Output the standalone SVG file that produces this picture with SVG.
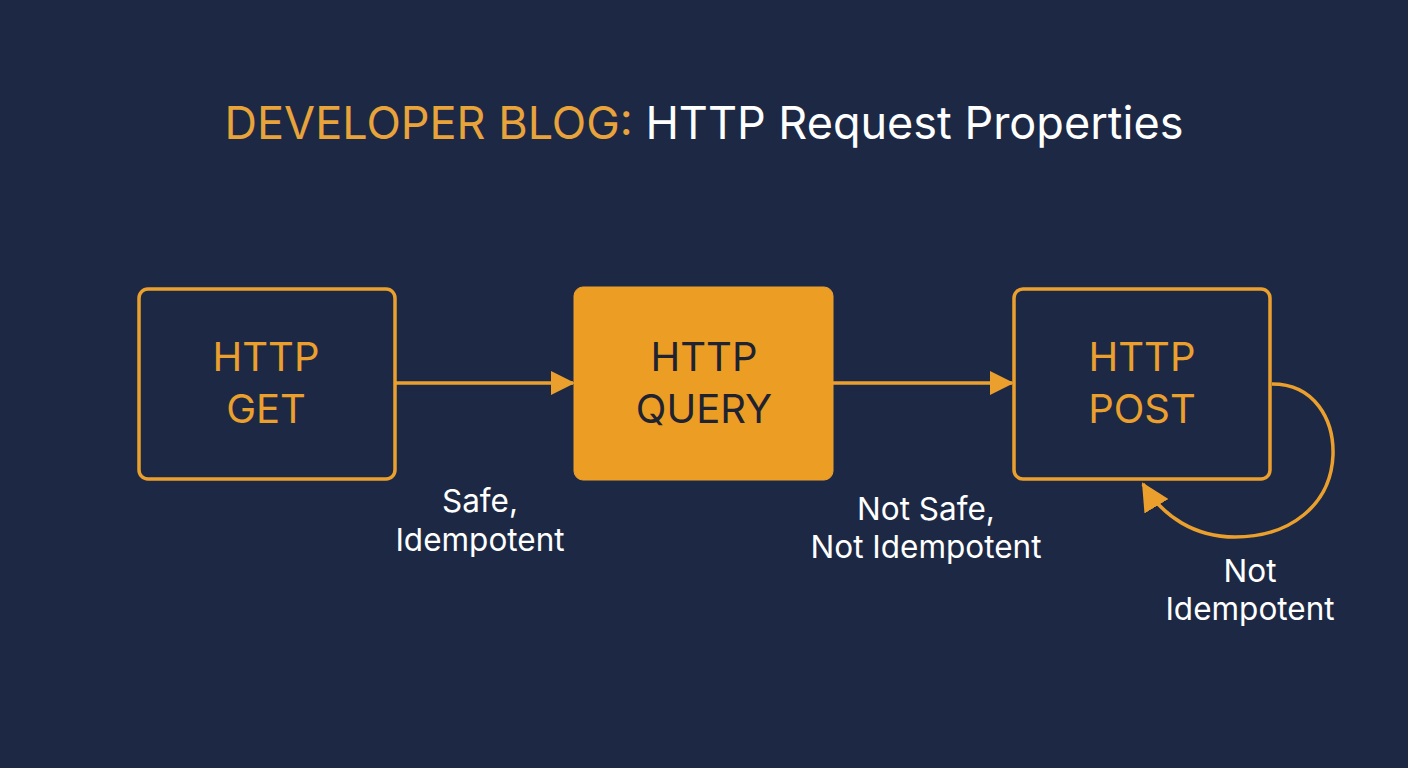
<svg xmlns="http://www.w3.org/2000/svg" width="1408" height="768" viewBox="0 0 1408 768">
<defs>
<style>
.bg{fill:#1d2944}
.box{fill:#1d2944;stroke:#eba02e;stroke-width:3.5}
.boxf{fill:#ec9d24;stroke:#eba02e;stroke-width:1}
.nt{font-family:Inter,"Noto Sans",sans-serif;font-size:40px;text-anchor:middle;fill:#eba02e}
.ntd{font-family:Inter,"Noto Sans",sans-serif;font-size:40px;text-anchor:middle;fill:#1f2230}
.lbl{font-family:Inter,"Noto Sans",sans-serif;font-size:31.5px;text-anchor:middle;fill:#ffffff}
.edge{fill:none;stroke:#eba02e;stroke-width:3.5}
.title{font-family:Inter,"Noto Sans",sans-serif;font-size:45px;text-anchor:middle}
</style>
<marker id="ah2" markerWidth="24" markerHeight="24" refX="22" refY="12" orient="auto" markerUnits="userSpaceOnUse" viewBox="0 0 24 24">
<path d="M0,0 L24,12 L0,24 z" fill="#eba02e"/>
</marker>
<marker id="ah3" markerWidth="28" markerHeight="28" refX="26" refY="14" orient="auto" markerUnits="userSpaceOnUse" viewBox="0 0 28 28">
<path d="M0,0 L28,14 L0,28 z" fill="#eba02e"/>
</marker>
</defs>
<rect class="bg" x="0" y="0" width="1408" height="768"/>
<text class="title" x="704" y="139"><tspan fill="#e8a33a">DEVELOPER BLOG:</tspan><tspan fill="#ffffff"> HTTP Request Properties</tspan></text>
<g id="connectors">
<path class="edge" d="M396,383 L573,383" marker-end="url(#ah2)"/>
<path class="edge" d="M833,383 L1012,383" marker-end="url(#ah2)"/>
<path class="edge" d="M1272,384 C1315,384 1334,420 1333,455 C1331,505 1290,537 1235,537 C1195,537 1163,517 1143,484" marker-end="url(#ah3)"/>
</g>
<g id="node-get">
<rect class="box" x="139" y="289" width="256" height="190" rx="9"/>
<text class="nt" x="266" y="371">HTTP</text>
<text class="nt" x="266" y="423">GET</text>
</g>
<g id="node-query">
<rect class="boxf" x="574" y="287" width="259" height="193" rx="9"/>
<text class="ntd" x="704" y="371">HTTP</text>
<text class="ntd" x="704" y="423">QUERY</text>
</g>
<g id="node-post">
<rect class="box" x="1014" y="289" width="256" height="190" rx="9"/>
<text class="nt" x="1142" y="371">HTTP</text>
<text class="nt" x="1142" y="423">POST</text>
</g>
<g id="labels">
<text class="lbl" x="480" y="512">Safe,</text>
<text class="lbl" x="480" y="551">Idempotent</text>
<text class="lbl" x="926" y="520">Not Safe,</text>
<text class="lbl" x="926" y="558">Not Idempotent</text>
<text class="lbl" x="1250" y="582">Not</text>
<text class="lbl" x="1250" y="620">Idempotent</text>
</g>
</svg>
